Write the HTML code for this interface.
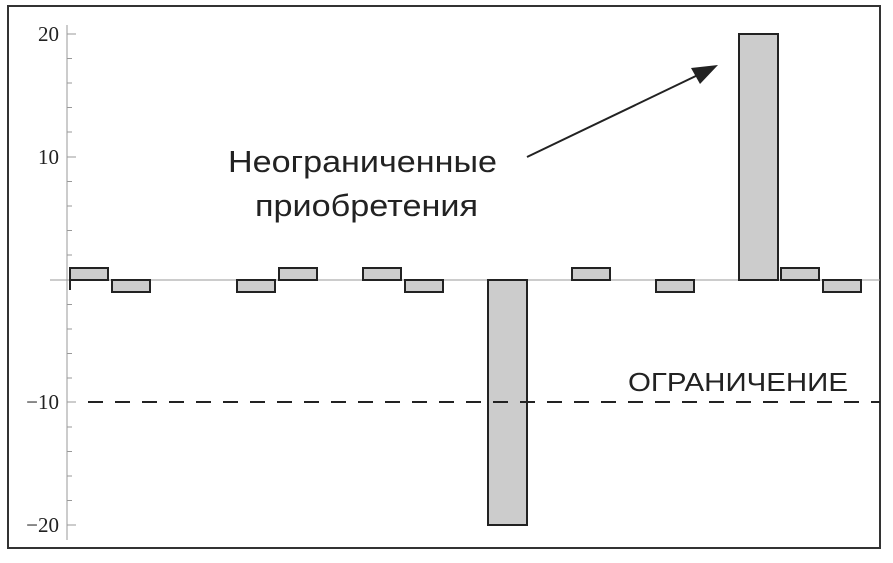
<!DOCTYPE html><html><head><meta charset="utf-8"><style>body{margin:0;background:#fff}</style></head><body>
<svg width="893" height="558" xmlns="http://www.w3.org/2000/svg">
<rect x="8" y="6" width="872" height="542" fill="#fff" stroke="#333" stroke-width="2"/>
<line x1="67" y1="25" x2="67" y2="540" stroke="#999" stroke-width="1"/>
<g stroke="#999" stroke-width="1">
<line x1="67" y1="34" x2="76" y2="34"/><line x1="67" y1="58.5" x2="72" y2="58.5"/><line x1="67" y1="83" x2="72" y2="83"/><line x1="67" y1="107.5" x2="72" y2="107.5"/><line x1="67" y1="132" x2="72" y2="132"/>
<line x1="67" y1="157" x2="76" y2="157"/><line x1="67" y1="181.5" x2="72" y2="181.5"/><line x1="67" y1="206" x2="72" y2="206"/><line x1="67" y1="230.5" x2="72" y2="230.5"/><line x1="67" y1="255" x2="72" y2="255"/>
<line x1="67" y1="304.5" x2="72" y2="304.5"/><line x1="67" y1="329" x2="72" y2="329"/><line x1="67" y1="353.5" x2="72" y2="353.5"/><line x1="67" y1="378" x2="72" y2="378"/><line x1="67" y1="402" x2="76" y2="402"/>
<line x1="67" y1="427" x2="72" y2="427"/><line x1="67" y1="451.5" x2="72" y2="451.5"/><line x1="67" y1="476" x2="72" y2="476"/><line x1="67" y1="500.5" x2="72" y2="500.5"/><line x1="67" y1="525" x2="76" y2="525"/>
<line x1="50" y1="280" x2="880" y2="280"/>
</g>
<g font-family="Liberation Serif, serif" font-size="21" text-anchor="end" fill="#222">
<text x="59" y="41">20</text><text x="59" y="164">10</text><text x="59" y="409">−10</text><text x="59" y="532">−20</text>
</g>
<g fill="#ccc" stroke="#222" stroke-width="2">
<rect x="70" y="268" width="38" height="12"/><rect x="112" y="280" width="38" height="12"/>
<rect x="237" y="280" width="38" height="12"/><rect x="279" y="268" width="38" height="12"/>
<rect x="363" y="268" width="38" height="12"/><rect x="405" y="280" width="38" height="12"/>
<rect x="488" y="280" width="39" height="245"/>
<rect x="572" y="268" width="38" height="12"/><rect x="656" y="280" width="38" height="12"/>
<rect x="739" y="34" width="39" height="246"/>
<rect x="781" y="268" width="38" height="12"/><rect x="823" y="280" width="38" height="12"/>
</g>
<line x1="70" y1="280" x2="70" y2="290" stroke="#222" stroke-width="2"/>
<line x1="88" y1="402" x2="880" y2="402" stroke="#222" stroke-width="2" stroke-dasharray="15,12"/>
<text x="628" y="391" textLength="220" lengthAdjust="spacingAndGlyphs" font-family="Liberation Sans, sans-serif" font-size="26" fill="#222">ОГРАНИЧЕНИЕ</text>
<text x="228" y="172" textLength="269" lengthAdjust="spacingAndGlyphs" font-family="Liberation Sans, sans-serif" font-size="31" fill="#222">Неограниченные</text>
<text x="255" y="216" textLength="223" lengthAdjust="spacingAndGlyphs" font-family="Liberation Sans, sans-serif" font-size="31" fill="#222">приобретения</text>
<line x1="527" y1="157" x2="700" y2="74" stroke="#222" stroke-width="2"/>
<polygon points="718,65 691,68 700,84" fill="#222"/>
</svg>
</body></html>
